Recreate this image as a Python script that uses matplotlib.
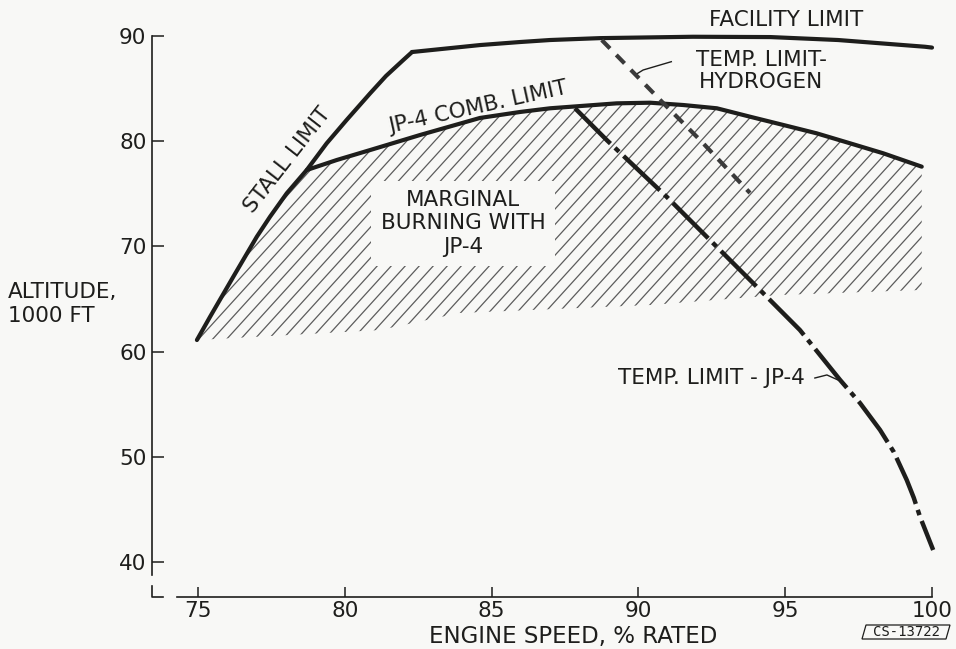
import numpy as np
import matplotlib
matplotlib.use('Agg')
import matplotlib.pyplot as plt
from matplotlib.patches import Polygon

# values (engine speed %, altitude 1000 ft)
stall_x = [74.96, 75.41, 76.20, 77.00, 77.45, 78.02, 78.70, 79.38, 80.06, 80.86, 81.40, 81.99, 82.29]
stall_y = [61.10, 63.32, 67.12, 70.92, 72.82, 75.05, 77.26, 79.80, 82.02, 84.55, 86.20, 87.72, 88.48]

facility_x = [82.29, 84.60, 85.97, 86.99, 88.70, 91.86, 94.50, 96.80, 99.76, 100.0]
facility_y = [88.48, 89.14, 89.43, 89.62, 89.80, 89.93, 89.90, 89.62, 88.98, 88.90]

comb_x = [78.70, 79.72, 80.86, 81.99, 82.56, 84.60, 85.97, 86.99, 89.26, 90.40, 91.53,
          92.67, 93.80, 94.94, 96.07, 97.21, 98.34, 99.65]
comb_y = [77.26, 78.21, 79.16, 80.11, 80.59, 82.21, 82.78, 83.13, 83.60, 83.66, 83.44,
          83.13, 82.33, 81.54, 80.75, 79.80, 78.85, 77.58]

h2_x = [88.75, 90.74, 92.10, 93.80]
h2_y = [89.62, 83.92, 80.11, 75.08]

jp4_x = [87.84, 88.92, 90.96, 94.14, 95.50, 96.87, 97.55, 98.23, 98.70, 99.14, 99.38,
         99.59, 100.04]
jp4_y = [83.13, 80.11, 74.72, 65.86, 62.05, 57.30, 55.10, 52.55, 50.45, 47.79, 46.10,
         44.31, 41.14]

# lower edge of the hatched "marginal burning" area
hatch_bottom_x = [74.96, 81.20, 83.90, 90.40, 94.80, 99.65]
hatch_bottom_y = [61.10, 62.05, 63.67, 64.43, 65.38, 65.86]

x_ticks = [75, 80, 85, 90, 95, 100]
y_ticks = [40, 50, 60, 70, 80, 90]

BG = '#f8f8f6'
INK = '#1e1e1c'

plt.rcParams['font.family'] = ['DejaVu Sans']
plt.rcParams['lines.scale_dashes'] = False

fig = plt.figure(figsize=(9.56, 6.49), dpi=100, facecolor=BG)
ax = fig.add_axes([0.159, 0.0801, 0.8159, 0.8644])
ax.set_facecolor(BG)
ax.set_xlim(73.43, 100)
ax.set_ylim(36.67, 90)

# axes look like the hand drawn original
ax.spines['top'].set_visible(False)
ax.spines['right'].set_visible(False)
ax.spines['left'].set_bounds(38.8, 90)
ax.spines['bottom'].set_bounds(74.28, 100)
for s in ['left', 'bottom']:
    ax.spines[s].set_linewidth(1.2)
    ax.spines[s].set_color(INK)
ax.set_xticks(x_ticks)
ax.set_yticks(y_ticks)
ax.tick_params(axis='y', direction='in', length=8.5, width=1.1, pad=4,
               labelsize=15.5, colors=INK)
ax.tick_params(axis='x', direction='in', length=7, width=1.1, pad=3,
               labelsize=15.5, colors=INK)
ax.plot([0, 0, 0.014], [0.02, 0, 0], transform=ax.transAxes, color=INK,
        lw=1.2, clip_on=False)

# hatched region
n_st = stall_x.index(comb_x[0]) + 1
reg_x = stall_x[:n_st] + comb_x[1:] + hatch_bottom_x[::-1]
reg_y = stall_y[:n_st] + comb_y[1:] + hatch_bottom_y[::-1]
clip = Polygon(np.column_stack([reg_x, reg_y]), closed=True, fc='none', ec='none')
ax.add_patch(clip)
slope = 3.07
for c in np.arange(62, 89, 0.477):
    ln, = ax.plot([c, c + 70 / slope], [30, 100], color='#5c5c5c', lw=0.9, zorder=1)
    ln.set_clip_path(clip)

# limit curves
ax.plot(stall_x, stall_y, color=INK, lw=3.0, solid_capstyle='round', zorder=4, clip_on=False)
ax.plot(facility_x, facility_y, color=INK, lw=3.0, solid_capstyle='round', zorder=4, clip_on=False)
ax.plot(comb_x, comb_y, color=INK, lw=3.0, solid_capstyle='round', zorder=4, clip_on=False)
ax.plot(h2_x, h2_y, color='#3a3a3a', lw=3.0, ls=(0, (8.5, 6.5)), zorder=4, clip_on=False)
ax.plot(jp4_x, jp4_y, color=INK, lw=3.2, ls=(0, (36, 4.5, 4, 4.5)),
        zorder=4, clip_on=False)

# labels on the chart
txt = dict(color=INK, fontsize=15.5)
ax.text(78.03, 78.21, 'STALL LIMIT', rotation=52, ha='center', va='center',
        rotation_mode='anchor', **txt)
ax.text(84.54, 83.25, 'JP-4 COMB. LIMIT', rotation=12.5, ha='center', va='center',
        rotation_mode='anchor', **txt)
ax.text(95.03, 91.52, 'FACILITY LIMIT', ha='center', va='center', **txt)
ax.text(94.18, 86.67, 'TEMP. LIMIT-\nHYDROGEN', ha='center', va='center',
        linespacing=1.15, **txt)
ax.plot([91.12, 90.16, 89.88], [87.56, 86.77, 86.29], color=INK, lw=1.0)
ax.text(95.67, 57.49, 'TEMP. LIMIT - JP-4', ha='right', va='center', **txt)
ax.plot([96.01, 96.42, 96.87], [57.49, 57.78, 57.21], color=INK, lw=1.0)
ax.text(84.03, 72.18, 'MARGINAL\nBURNING WITH\nJP-4', ha='center', va='center',
        linespacing=1.2, zorder=3,
        bbox=dict(boxstyle='square,pad=0.45', fc=BG, ec='none'), **txt)

# axis titles
fig.text(8 / 956, 0.5316, 'ALTITUDE,\n1000 FT', ha='left', va='center',
         linespacing=1.25, color=INK, fontsize=15.5)
fig.text(0.5999, 0.02, 'ENGINE SPEED, % RATED', ha='center', va='center',
         color=INK, fontsize=16.5)

# negative number stamp
stamp = [(866 / 956, 1 - 625 / 649), (950 / 956, 1 - 625 / 649),
         (946 / 956, 1 - 639 / 649), (862 / 956, 1 - 639 / 649)]
fig.patches.append(Polygon(stamp, closed=True, fc='none', ec=INK, lw=0.9,
                           transform=fig.transFigure))
fig.text(906 / 956, 1 - 632 / 649, 'CS-13722', ha='center', va='center',
         family='DejaVu Sans Mono', fontsize=10, color=INK)

fig.savefig('out.png', dpi=100, facecolor=BG)
